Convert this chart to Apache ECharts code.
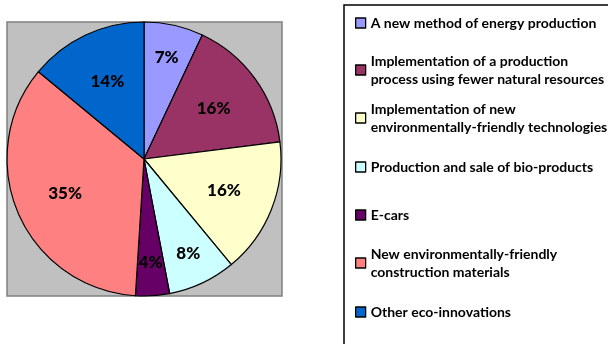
<!DOCTYPE html>
<html>
<head>
<meta charset="utf-8">
<script src="https://cdn.jsdelivr.net/npm/echarts@6/dist/echarts.min.js"></script>
<style>
html,body{margin:0;padding:0;background:#fff;}
#c{width:608px;height:344px;}
</style>
</head>
<body>
<div id="c"></div>
<script>
const categories = [
  'A new method of energy production',
  'Implementation of a production\nprocess using fewer natural resources',
  'Implementation of new\nenvironmentally-friendly technologies',
  'Production and sale of bio-products',
  'E-cars',
  'New environmentally-friendly\nconstruction materials',
  'Other eco-innovations'
];
const shares = [7, 16, 16, 8, 4, 35, 14];
const colors = ['#9999FF', '#993366', '#FFFFCC', '#CCFFFF', '#660066', '#FF8080', '#0066CC'];
const smallSlices = [true, false, false, true, true, false, false];

const chart = echarts.init(document.getElementById('c'), null, {renderer: 'canvas'});
const FONT = 'Lato, "Open Sans", sans-serif';
const cx = 144, cy = 159, R = 137;

const mainData = categories.map((n, i) => ({name: n, value: shares[i], itemStyle: {color: colors[i]}}));
function labelData(wantSmall) {
  return categories.map((n, i) => ({
    name: n, value: shares[i],
    label: {show: smallSlices[i] === wantSmall}
  }));
}
const labelStyle = {
  position: 'inside', formatter: '{c}%', color: '#000',
  fontFamily: FONT, fontWeight: 900, fontSize: 17
};

// legend layout: icon centre rows
const iconCentres = [23, 70, 118, 167, 215, 263, 312];
const LH = 18;
const legends = categories.map((n, i) => {
  const twoLine = n.indexOf('\n') >= 0;
  return {
    data: [{name: n, textStyle: twoLine ? {padding: [LH, 0, 0, 0]} : {}}],
    left: 355,
    top: twoLine ? iconCentres[i] - LH * 1.5 : iconCentres[i] - LH / 2,
    padding: 0,
    icon: 'rect',
    itemWidth: 10, itemHeight: 10,
    orient: 'vertical',
    selectedMode: false,
    itemStyle: {borderColor: '#000', borderWidth: 1.3},
    textStyle: {fontFamily: FONT, fontWeight: 'bold', fontSize: 14, color: '#000', lineHeight: LH}
  };
});

chart.setOption({
  animation: false,
  backgroundColor: '#fff',
  graphic: [
    {type: 'rect', shape: {x: 7, y: 22, width: 275, height: 274},
     style: {fill: '#C0C0C0', stroke: '#808080', lineWidth: 1.5}, z: -10},
    {type: 'rect', shape: {x: 344, y: 5, width: 300, height: 400},
     style: {fill: 'none', stroke: '#000', lineWidth: 1.5}, z: -10}
  ],
  legend: legends,
  series: [
    {
      type: 'pie', center: [cx, cy], radius: [0, R], startAngle: 90, clockwise: true,
      label: {show: false}, labelLine: {show: false},
      itemStyle: {borderColor: '#000', borderWidth: 1.2},
      emphasis: {disabled: true},
      data: mainData
    },
    {
      type: 'pie', center: [cx, cy], radius: [66, 100], startAngle: 90, clockwise: true,
      silent: true, legendHoverLink: false,
      itemStyle: {color: 'rgba(0,0,0,0)', borderWidth: 0},
      label: labelStyle, labelLine: {show: false}, emphasis: {disabled: true},
      data: labelData(false)
    },
    {
      type: 'pie', center: [cx, cy], radius: [90, 112], startAngle: 90, clockwise: true,
      silent: true, legendHoverLink: false,
      itemStyle: {color: 'rgba(0,0,0,0)', borderWidth: 0},
      label: labelStyle, labelLine: {show: false}, emphasis: {disabled: true},
      data: labelData(true)
    }
  ]
});
</script>
</body>
</html>
